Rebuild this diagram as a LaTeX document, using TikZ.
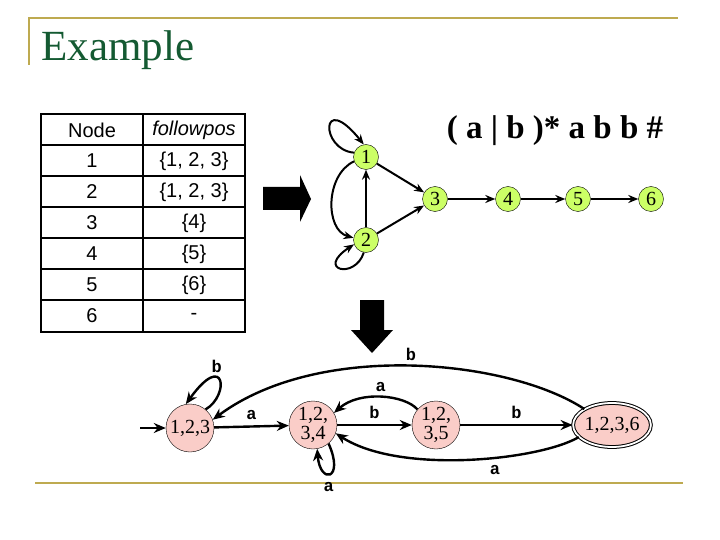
\documentclass[tikz,border=0pt]{standalone}
\usepackage{fontspec}
\newfontfamily\arial{Liberation Sans}
\newfontfamily\tnr{Liberation Serif}
\newfontfamily\cour{Liberation Mono}
\usetikzlibrary{arrows.meta,shapes.geometric}
\begin{document}
\begin{tikzpicture}[x=1pt,y=-1pt,
  gn/.style={circle,draw,fill={rgb,255:red,204;green,255;blue,102},minimum size=25pt,inner sep=0pt,font=\tnr\fontsize{20}{20}\selectfont},
  dn/.style={circle,draw,fill={rgb,255:red,250;green,205;blue,200},minimum size=48pt,inner sep=0pt,align=center,font=\tnr\fontsize{20}{20}\selectfont},
  ed/.style={-{Stealth[length=12pt,width=10pt]},line width=2.4pt},
  lb/.style={font=\cour\bfseries\fontsize{17}{17}\selectfont},
  tc/.style={font=\arial\fontsize{20}{20}\selectfont}]
\useasboundingbox (0,0) rectangle (720,540);
\definecolor{frm}{RGB}{190,170,80}
\draw[frm,line width=2pt] (29,65) -- (29,18) -- (678,18);
\draw[frm,line width=2pt] (35,483) -- (683,483);
\node[anchor=west,text={rgb,255:red,20;green,90;blue,50},font=\tnr\fontsize{43}{43}\selectfont] (title) at (38,50) {Example};
% table
\draw[line width=1.6pt] (41,114) rectangle (245,332);
\draw[line width=1.2pt] (143,114) -- (143,332);
\foreach \y in {145,176,207,238,269,300} \draw[line width=1.2pt] (41,\y) -- (245,\y);
\node[tc] (h1) at (92,130) {Node};
\node[tc] (h2) at (194,130) {\itshape followpos};
\foreach \i/\v [count=\k] in {1/{\{1, 2, 3\}},2/{\{1, 2, 3\}},3/{\{4\}},4/{\{5\}},5/{\{6\}},6/{-}}{
  \node[tc] (r\k) at (92,130+31*\k) {\i};
  \node[tc] (v\k) at (194,130+31*\k) {\v};}
% block arrows
\fill (263,187) -- (300,187) -- (300,175) -- (311,199) -- (300,222) -- (300,210) -- (263,210) -- cycle;
\fill (360,300) -- (384,300) -- (384,330) -- (393,330) -- (372,353) -- (351,330) -- (360,330) -- cycle;
% position graph
\node[font=\tnr\bfseries\fontsize{33}{33}\selectfont] (re) at (555,131) {( a | b )* a b b \#};
\node[gn] (p1) at (366,157) {1};
\node[gn] (p2) at (366,240) {2};
\node[gn] (p3) at (435,199) {3};
\node[gn] (p4) at (508,199) {4};
\node[gn] (p5) at (578,199) {5};
\node[gn] (p6) at (651,199) {6};
\begin{scope}[line width=2pt,-{Stealth[length=10pt,width=8pt]}]
\draw (p1) -- (p3);
\draw (p2) -- (p3);
\draw (p2) -- (p1);
\draw (p3) -- (p4);
\draw (p4) -- (p5);
\draw (p5) -- (p6);
\draw (p1.160) .. controls (320,150) and (320,90) .. (p1.100);
\draw (p2.-100) .. controls (355,280) and (315,270) .. (p2.200);
\draw (p1.200) .. controls (325,175) and (325,230) .. (p2.170);
\end{scope}
% DFA
\node[dn] (A) at (190,428) {1,2,3};
\node[dn] (B) at (313,425) {1,2,\\[-1pt]3,4};
\node[dn] (C) at (436,425) {1,2,\\[-1pt]3,5};
\node[ellipse,draw,double,line width=1pt,double distance=1.8pt,fill={rgb,255:red,250;green,205;blue,200},minimum width=76pt,minimum height=44pt,inner sep=0pt,font=\tnr\fontsize{20}{20}\selectfont] (D) at (612,425) {1,2,3,6};
\coordinate (s) at (140,428);
\draw[ed] (s) -- (A);
\draw[ed] (A) -- node[lb,above=2pt] {a} (B);
\draw[ed] (B) -- node[lb,above=2pt] {b} (C);
\draw[ed] (C) -- node[lb,above=2pt] {b} (D);
\draw[ed] (C.140) .. controls (405,395) and (360,390) .. node[lb,above=1pt] {a} (B.30);
\draw[ed] (D.200) .. controls (540,460) and (400,475) .. node[lb,below=3pt,pos=0.4] {a} (B.-20);
\draw[ed] (D.150) .. controls (510,360) and (320,340) .. node[lb,above=1pt] {b} (A.20);
\draw[ed] (A.50) .. controls (230,395) and (225,350) .. node[lb,above=1pt,pos=0.6] {b} (A.100);
\draw[ed] (B.-50) .. controls (345,480) and (320,485) .. node[lb,below=4pt,pos=0.55] {a} (B.-80);
\end{tikzpicture}
\end{document}
